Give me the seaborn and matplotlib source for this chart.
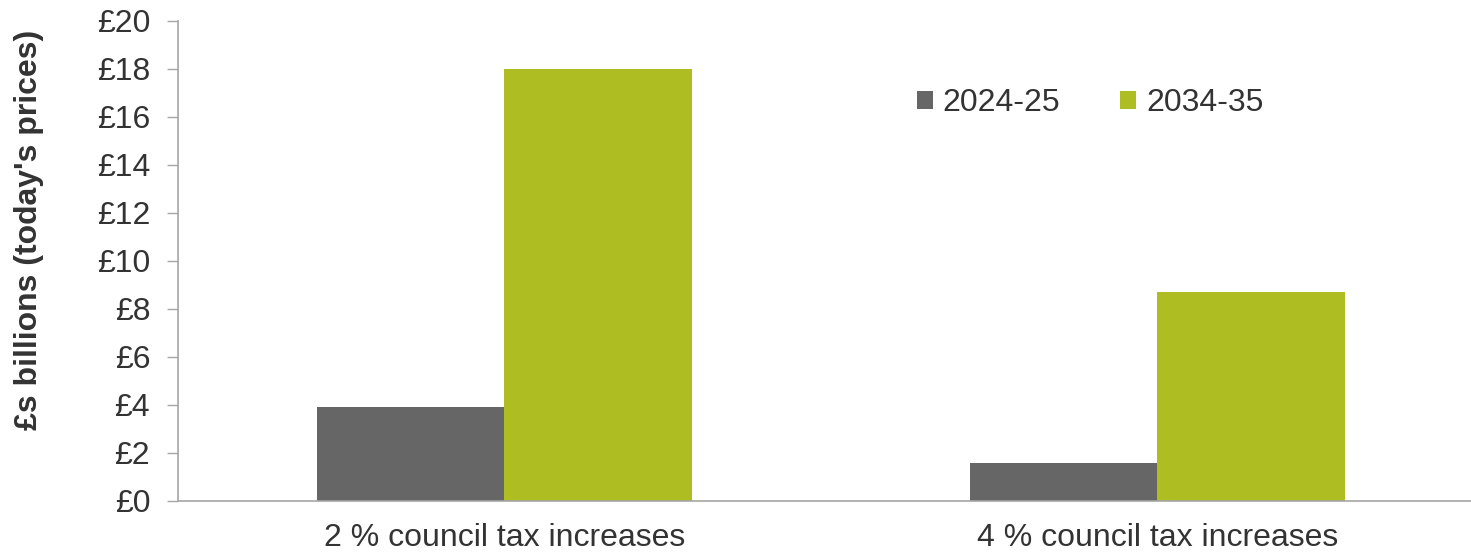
import matplotlib
matplotlib.use("Agg")
import matplotlib.pyplot as plt
import seaborn as sns
import pandas as pd
from matplotlib.patches import Patch

categories = ["2 % council tax increases", "4 % council tax increases"]
series = ["2024-25", "2034-35"]
values_2024 = [3.9, 1.6]
values_2034 = [18.0, 8.7]
yticks = [0, 2, 4, 6, 8, 10, 12, 14, 16, 18, 20]
ytick_labels = ["£0", "£2", "£4", "£6", "£8", "£10", "£12", "£14", "£16", "£18", "£20"]
colors = ["#666666", "#AEBD21"]

df = pd.DataFrame({
    "category": categories * 2,
    "series": [series[0]] * 2 + [series[1]] * 2,
    "value": values_2024 + values_2034,
})

sns.set_theme(style="white")
plt.rcParams["font.family"] = ["Liberation Sans", "DejaVu Sans"]

W, H = 1471, 554
FS = 23
fig = plt.figure(figsize=(W / 100, H / 100), dpi=100)
ax = fig.add_axes([178 / W, 1 - 501 / H, (1484 - 178) / W, (501 - 21) / H])

sns.barplot(data=df, x="category", y="value", hue="series", palette=colors,
            width=0.573, saturation=1, ax=ax, legend=False, edgecolor="none")

ax.set_xlim(-0.5, 1.5)
ax.set_ylim(0, 20)
ax.set_yticks(yticks)
ax.set_yticklabels(ytick_labels, fontsize=FS, color="#333333")
ax.set_xticks([0, 1])
ax.set_xticklabels(categories, fontsize=FS, color="#333333")
ax.tick_params(axis="x", length=0, pad=16)
ax.set_xticks([-0.5, 0.5, 1.5], minor=True)
ax.tick_params(axis="x", which="minor", length=8, width=1, color="#A6A6A6", direction="out")
ax.tick_params(axis="y", length=8, width=1, color="#A6A6A6", direction="out", pad=12, left=True)
ax.set_xlabel("")
ax.set_ylabel("£s billions (today's prices)", fontsize=23, fontweight="bold",
              color="#333333")
ax.yaxis.set_label_coords(44 / W, 1 - 230 / H, transform=fig.transFigure)
for s in ["top", "right"]:
    ax.spines[s].set_visible(False)
for s in ["left", "bottom"]:
    ax.spines[s].set_color("#A6A6A6")
    ax.spines[s].set_linewidth(1.2)

handles = [Patch(facecolor=c, edgecolor="none") for c in colors]
ax.legend(handles, series, loc="center", bbox_to_anchor=(1090 / W, 1 - 103 / H),
          bbox_transform=fig.transFigure, ncol=2, frameon=False, fontsize=FS,
          handlelength=0.5, handleheight=0.5, handletextpad=0.3, columnspacing=1.9,
          labelcolor="#333333")

fig.savefig("out.png", dpi=100)
